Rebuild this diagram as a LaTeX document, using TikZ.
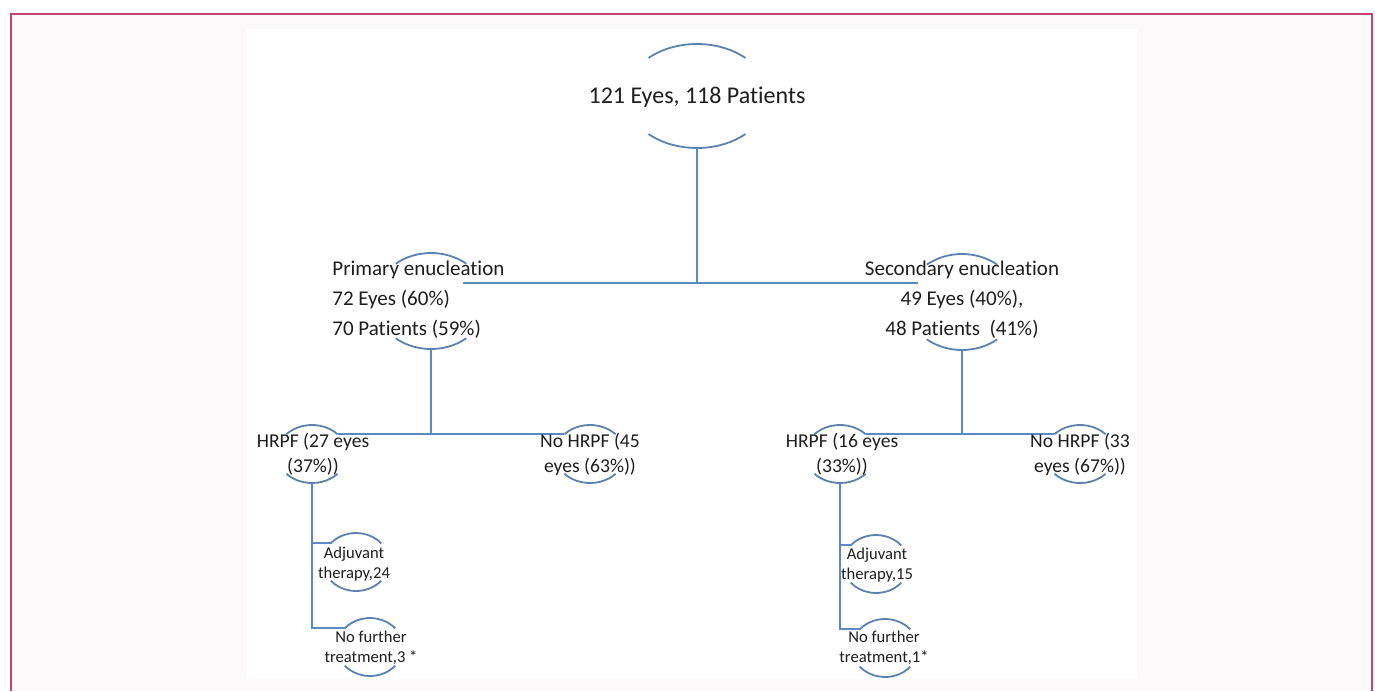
\documentclass[tikz,border=0pt]{standalone}
\usepackage{fontspec}
\setmainfont{Carlito}[Ligatures=NoCommon]
\usetikzlibrary{shapes.geometric,calc}

\definecolor{framered}{HTML}{C4466F}
\definecolor{pagebg}{HTML}{FBF9FA}
\definecolor{linkblue}{HTML}{5A8AC0}
\definecolor{lidblue}{HTML}{5B82AE}
\definecolor{inkgray}{HTML}{1E1E1E}

\tikzset{
  bubble/.style={ellipse, inner sep=0pt, draw=none},
  link/.style={linkblue, line width=1.1pt},
  lid/.style={lidblue, line width=0.9pt},
  txtbig/.style={inkgray, inner sep=0pt, font=\fontsize{12}{14}\selectfont},
  txtmid/.style={inkgray, inner sep=0pt, align=center, font=\fontsize{10.5}{15}\selectfont},
  txthr/.style={inkgray, inner sep=0pt, align=center, font=\fontsize{9.8}{12.5}\selectfont},
  txtsmall/.style={inkgray, inner sep=0pt, align=center, font=\fontsize{8.3}{10}\selectfont}
}

\begin{document}
\begin{tikzpicture}[x=0.5pt,y=-0.5pt]
\useasboundingbox (0,0) rectangle (1375,691);

\fill[pagebg] (11,14) rectangle (1372,691);
\fill[white] (247,29) rectangle (1137,679);
\draw[framered, line width=1.3pt] (11,691) -- (11,14) -- (1372,14) -- (1372,691);

\foreach \n/\px/\py/\a/\b/\t in {top/697/96/71/52/47, primary/431/301/56/48/51, secondary/962/302/56/48/51,
  hrpfA/312/454/35/29/43, nohrpfA/590/454/35/29/43, hrpfB/840/454/35/29/43, nohrpfB/1080/454/35/29/43,
  adjA/356/562/33/29/40, nofurtherA/370/647/33/29/40, adjB/876/564/33/29/40, nofurtherB/885/648/33/29/40}{
  \node[bubble, minimum width=\a pt, minimum height=\b pt] (\n) at (\px,\py) {};
  \coordinate (\n-tl) at ($(\n.center)+({-\a*cos(\t)},{-\b*sin(\t)})$);
  \coordinate (\n-tr) at ($(\n.center)+({\a*cos(\t)},{-\b*sin(\t)})$);
  \draw[lid] (\n-tl) arc[start angle=180+\t, end angle=360-\t, x radius=\a, y radius=\b];
  \draw[lid] (\n.center) ++({\a*cos(\t)},{\b*sin(\t)}) arc[start angle=\t, end angle=180-\t, x radius=\a, y radius=\b];
}

\coordinate (splitL) at (463,283);
\coordinate (splitR) at (918,283);

\draw[link] (top.south) -- (top.south |- splitL);
\draw[link] (splitL) -- (splitR);

\draw[link] (primary.south) -- (primary.south |- hrpfA-tr);
\draw[link] (hrpfA-tr) -- (nohrpfA-tl);
\draw[link] (secondary.south) -- (secondary.south |- hrpfB-tr);
\draw[link] (hrpfB-tr) -- (nohrpfB-tl);

\draw[link] (hrpfA.south) -- (hrpfA.south |- nofurtherA-tl) -- (nofurtherA-tl);
\draw[link] (hrpfA.south |- adjA-tl) -- (adjA-tl);
\draw[link] (hrpfB.south) -- (hrpfB.south |- nofurtherB-tl) -- (nofurtherB-tl);
\draw[link] (hrpfB.south |- adjB-tl) -- (adjB-tl);

\node[txtbig] (topT) at (697,97) {121 Eyes, 118 Patients};
\node[txtmid, align=left, anchor=west] (primaryT) at (332,300) {Primary enucleation\\72 Eyes (60\%)\\70 Patients (59\%)};
\node[txtmid] (secondaryT) at (962,300) {Secondary enucleation\\49 Eyes (40\%),\\48 Patients~~(41\%)};
\node[txthr] (hrpfAT) at (313,454) {HRPF (27 eyes\\(37\%))};
\node[txthr] (nohrpfAT) at (590,454) {No HRPF (45\\eyes (63\%))};
\node[txthr] (hrpfBT) at (842,454) {HRPF (16 eyes\\(33\%))};
\node[txthr] (nohrpfBT) at (1080,454) {No HRPF (33\\eyes (67\%))};
\node[txtsmall] (adjAT) at (354,564) {Adjuvant\\therapy,24};
\node[txtsmall] (nofurtherAT) at (371,648) {No further\\treatment,3 *};
\node[txtsmall] (adjBT) at (877,565) {Adjuvant\\therapy,15};
\node[txtsmall] (nofurtherBT) at (884,648) {No further\\treatment,1*};
\end{tikzpicture}
\end{document}
